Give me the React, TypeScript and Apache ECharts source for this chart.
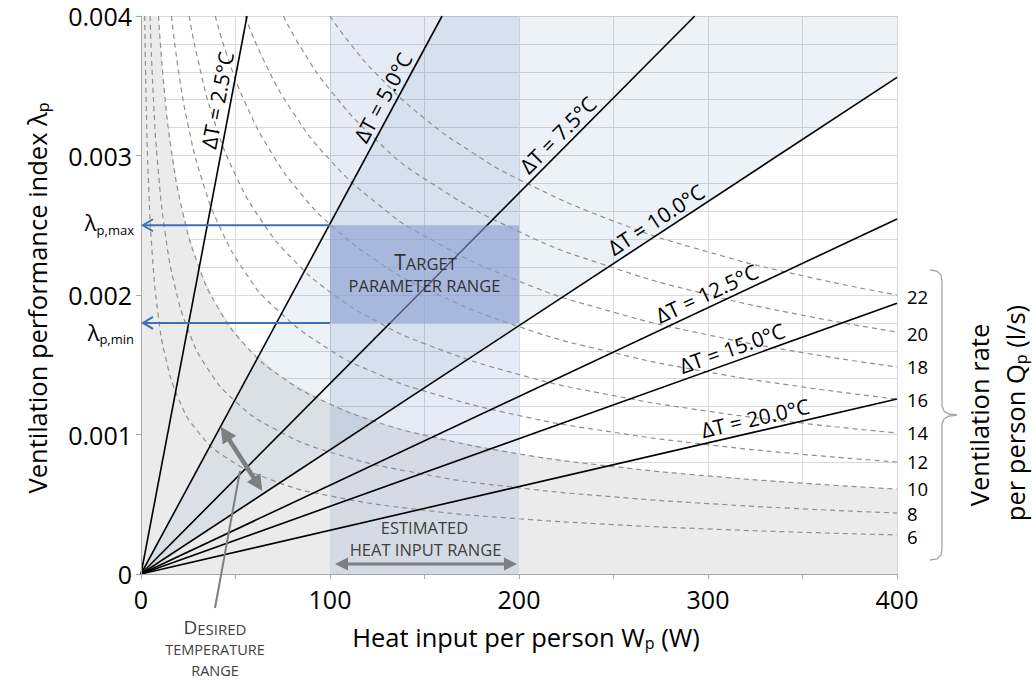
import React, { useEffect, useRef } from 'react';
import * as echarts from 'echarts';

const FONT = "'Open Sans', sans-serif";

// ---- axes ----
const X_RANGE = [0, 400];
const Y_RANGE = [0, 0.004];

// ---- ΔT lines (from origin to the end point) ----
const deltaTNames = ['2.5', '5.0', '7.5', '10.0', '12.5', '15.0', '20.0'];
const deltaTEnd = [
  [56.1, 0.004],
  [159.3, 0.004],
  [293, 0.004],
  [400, 0.00356],
  [400, 0.002545],
  [400, 0.00194],
  [400, 0.001254],
];
// approximate centre of each rotated ΔT label, in data units (projected onto its line)
const deltaTLabelAt = [
  [39.7, 0.003398],
  [127.5, 0.003419],
  [219.6, 0.003161],
  [273, 0.00253],
  [299.5, 0.002007],
  [312.7, 0.00162],
  [324.9, 0.001125],
];

// ---- constant ventilation-rate curves Q_p (l/s) ----
const qNames = ['22', '20', '18', '16', '14', '12', '10', '8', '6'];
const q22 = [[100, 0.004], [110, 0.003814], [125, 0.003578], [150, 0.003266], [175, 0.003024], [200, 0.002828], [250, 0.00253], [300, 0.002309], [350, 0.002138], [400, 0.002]];
const q20 = [[75.3, 0.004], [85, 0.003764], [100, 0.00347], [125, 0.003104], [150, 0.002833], [200, 0.002454], [250, 0.002195], [300, 0.002003], [350, 0.001855], [400, 0.001735]];
const q18 = [[55.1, 0.004], [65, 0.003681], [80, 0.003318], [100, 0.002968], [125, 0.002655], [150, 0.002423], [200, 0.002099], [250, 0.001877], [300, 0.001714], [350, 0.001587], [400, 0.001484]];
const q16 = [[39.3, 0.004], [45, 0.003739], [55, 0.003382], [70, 0.002998], [85, 0.00272], [100, 0.002508], [125, 0.002243], [150, 0.002048], [200, 0.001773], [250, 0.001586], [300, 0.001448], [350, 0.001341], [400, 0.001254]];
const q14 = [[25.5, 0.004], [30, 0.003692], [38, 0.00328], [50, 0.00286], [65, 0.002508], [80, 0.002261], [100, 0.002022], [125, 0.001809], [150, 0.001651], [200, 0.00143], [250, 0.001279], [300, 0.001167], [350, 0.001081], [400, 0.001011]];
const q12 = [[16.1, 0.004], [20, 0.003591], [25, 0.003212], [32, 0.002839], [42, 0.002478], [55, 0.002166], [70, 0.001919], [100, 0.001606], [125, 0.001436], [150, 0.001311], [200, 0.001136], [250, 0.001016], [300, 0.000927], [350, 0.000858], [400, 0.000803]];
const q10 = [[9.3, 0.004], [12, 0.003516], [16, 0.003045], [22, 0.002597], [30, 0.002224], [40, 0.001926], [55, 0.001642], [75, 0.001406], [100, 0.001218], [125, 0.001089], [150, 0.000995], [200, 0.000861], [250, 0.00077], [300, 0.000703], [350, 0.000651], [400, 0.000609]];
const q8 = [[4.8, 0.004], [6.5, 0.003428], [9, 0.002913], [13, 0.002424], [18, 0.00206], [25, 0.001748], [35, 0.001477], [50, 0.001236], [70, 0.001045], [100, 0.000874], [150, 0.000714], [200, 0.000618], [250, 0.000553], [300, 0.000505], [350, 0.000467], [400, 0.000437]];
const q6 = [[1.96, 0.004], [2.8, 0.003347], [4, 0.0028], [6, 0.002287], [9, 0.001867], [13, 0.001553], [20, 0.001252], [30, 0.001022], [45, 0.000835], [70, 0.000669], [100, 0.00056], [150, 0.000457], [200, 0.000396], [250, 0.000354], [300, 0.000323], [350, 0.000299], [400, 0.00028]];
const qCurves = [q22, q20, q18, q16, q14, q12, q10, q8, q6];
// small vertical nudges of the right-hand Q labels (px)
const qLabelNudge = [1, 2, 0, 0, 0, 0, -1, 0, 2];

// ---- ranges ----
const heatRange = [100, 200];
const lambdaRange = [0.0018, 0.0025]; // λp,min, λp,max

export default function App() {
  const ref = useRef<HTMLDivElement>(null);

  useEffect(() => {
    const el = ref.current as HTMLDivElement;
    const chart = echarts.init(el, null, { renderer: 'svg' });

    const greyBoundary = [[0, Y_RANGE[1]], ...q10];
    const wedge = [[0, 0], deltaTEnd[1], [X_RANGE[1], Y_RANGE[1]], deltaTEnd[3]];
    const column = [[heatRange[0], 0], [heatRange[0], Y_RANGE[1]], [heatRange[1], Y_RANGE[1]], [heatRange[1], 0]];
    const target = [[heatRange[0], lambdaRange[0]], [heatRange[0], lambdaRange[1]], [heatRange[1], lambdaRange[1]], [heatRange[1], lambdaRange[0]]];

    const gridColor = '#d9d9d9';
    const axisColor = '#a6a6a6';

    const series: any[] = [];

    series.push({
      type: 'line', name: 'grey', data: greyBoundary, xAxisIndex: 0, yAxisIndex: 0,
      showSymbol: false, symbol: 'none', silent: true, z: 1,
      lineStyle: { width: 0 }, areaStyle: { color: '#ebebeb', opacity: 1 },
    });

    series.push({
      type: 'custom', name: 'zones', data: [[0, 0]], z: 2, silent: true,
      renderItem: (_p: any, api: any) => ({
        type: 'group',
        children: [
          { type: 'polygon', shape: { points: wedge.map((p) => api.coord(p)) }, style: { fill: 'rgba(79,129,189,0.10)' } },
          { type: 'polygon', shape: { points: column.map((p) => api.coord(p)) }, style: { fill: 'rgba(79,129,189,0.15)' } },
        ],
      }),
    });

    qCurves.forEach((d, i) => {
      series.push({
        type: 'line', name: 'Q' + qNames[i], data: d, smooth: true, showSymbol: false, symbol: 'none',
        silent: true, z: 3,
        lineStyle: { color: '#8f8f8f', width: 1.2, type: [5, 4] },
        endLabel: { show: true, formatter: qNames[i], color: '#000', fontSize: 18.5, lineHeight: 19, fontFamily: FONT, distance: 10, offset: [0, qLabelNudge[i]] },
      });
    });

    deltaTEnd.forEach((e, i) => {
      series.push({
        type: 'line', name: 'dT' + deltaTNames[i], data: [[0, 0], e], showSymbol: false, symbol: 'none',
        silent: true, z: 4, lineStyle: { color: '#000', width: 1.6 },
      });
    });

    series.push({
      type: 'custom', name: 'target', data: [[0, 0]], z: 5, silent: true,
      renderItem: (_p: any, api: any) => ({
        type: 'polygon', shape: { points: target.map((p) => api.coord(p)) }, style: { fill: 'rgba(138,157,208,0.6)' },
      }),
    });

    series.push({
      type: 'custom', name: 'dTlabels', z: 6, silent: true,
      data: deltaTLabelAt.map((p, i) => [p[0], p[1], i]),
      renderItem: (_p: any, api: any) => {
        const i = api.value(2);
        const p = api.coord([api.value(0), api.value(1)]);
        const o = api.coord([0, 0]);
        const e = api.coord(deltaTEnd[i]);
        const L = Math.hypot(e[0] - o[0], e[1] - o[1]);
        const ux = (e[0] - o[0]) / L, uy = (e[1] - o[1]) / L;
        const t = (p[0] - o[0]) * ux + (p[1] - o[1]) * uy;
        const off = 13.5;
        const x = o[0] + ux * t + uy * off;
        const y = o[1] + uy * t - ux * off;
        const rot = Math.atan2(o[1] - e[1], e[0] - o[0]);
        return {
          type: 'text', x, y, rotation: rot,
          style: { text: 'ΔT = ' + deltaTNames[i] + '°C', fontSize: 21, lineHeight: 22, fontFamily: FONT, fill: '#000', align: 'center', verticalAlign: 'middle' },
        };
      },
    });

    const option: any = {
      animation: false,
      grid: { left: 141, right: 136, top: 16, bottom: 109, containLabel: false },
      xAxis: [
        {
          type: 'value', min: X_RANGE[0], max: X_RANGE[1], interval: 50, position: 'bottom', z: 0,
          axisLine: { show: false }, axisTick: { show: false }, axisLabel: { show: false },
          splitLine: { show: true, lineStyle: { color: gridColor, width: 1 } },
        },
        {
          type: 'value', min: X_RANGE[0], max: X_RANGE[1], interval: 50, position: 'bottom', z: 10,
          axisLine: { show: true, onZero: false, lineStyle: { color: axisColor, width: 1 } },
          axisTick: { show: true, length: 5, lineStyle: { color: axisColor } },
          axisLabel: { formatter: (v: number) => (v % 100 === 0 ? String(v) : ''), fontSize: 25, color: '#000', fontFamily: FONT, margin: 12 },
          splitLine: { show: false },
        },
      ],
      yAxis: [
        {
          type: 'value', min: Y_RANGE[0], max: Y_RANGE[1], interval: 0.001, position: 'left', z: 0,
          axisLine: { show: false }, axisTick: { show: false }, axisLabel: { show: false },
          splitLine: { show: true, lineStyle: { color: gridColor, width: 1 } },
          minorTick: { show: false, splitNumber: 5 },
          minorSplitLine: { show: true, lineStyle: { color: gridColor, width: 1 } },
        },
        {
          type: 'value', min: Y_RANGE[0], max: Y_RANGE[1], interval: 0.001, position: 'left', z: 10,
          axisLine: { show: true, onZero: false, lineStyle: { color: axisColor, width: 1 } },
          axisTick: { show: true, length: 5, lineStyle: { color: axisColor } },
          axisLabel: { formatter: (v: number) => (v === 0 ? '0' : v.toFixed(3)), fontSize: 25, color: '#000', fontFamily: FONT, margin: 9 },
          splitLine: { show: false },
        },
      ],
      series,
    };

    chart.setOption(option);

    const px = (p: number[]) => chart.convertToPixel({ xAxisIndex: 0, yAxisIndex: 0 }, p) as number[];
    const gAnn = '#7f7f7f';
    const blue = '#3f6fb5';
    const txt = '#404040';

    const arrowHead = (from: number[], to: number[], len: number, half: number, color: string) => {
      const dx = to[0] - from[0], dy = to[1] - from[1];
      const L = Math.hypot(dx, dy);
      const ux = dx / L, uy = dy / L;
      const nx = -uy, ny = ux;
      const bx = to[0] - ux * len, by = to[1] - uy * len;
      return {
        type: 'polygon', z: 50,
        shape: { points: [to, [bx + nx * half, by + ny * half], [bx - nx * half, by - ny * half]] },
        style: { fill: color },
      };
    };
    const doubleArrow = (a: number[], b: number[], w: number, len: number, half: number, color: string) => {
      const dx = b[0] - a[0], dy = b[1] - a[1];
      const L = Math.hypot(dx, dy);
      const ux = dx / L, uy = dy / L;
      return [
        { type: 'line', z: 50, shape: { x1: a[0] + ux * (len - 2), y1: a[1] + uy * (len - 2), x2: b[0] - ux * (len - 2), y2: b[1] - uy * (len - 2) }, style: { stroke: color, lineWidth: w } },
        arrowHead(b, a, len, half, color),
        arrowHead(a, b, len, half, color),
      ];
    };

    const origin = px([0, 0]);
    const g: any[] = [];

    // λ arrows
    [lambdaRange[1], lambdaRange[0]].forEach((lv) => {
      const s = px([heatRange[0], lv]);
      const tipX = origin[0] + 2;
      g.push({ type: 'line', z: 50, shape: { x1: s[0], y1: s[1], x2: tipX, y2: s[1] }, style: { stroke: blue, lineWidth: 2 } });
      g.push({ type: 'polyline', z: 50, shape: { points: [[tipX + 10, s[1] - 6], [tipX, s[1]], [tipX + 10, s[1] + 6]] }, style: { stroke: blue, lineWidth: 2, fill: null } });
    });
    const lmax = px([0, lambdaRange[1]]);
    const lmin = px([0, lambdaRange[0]]);
    const lamRich = {
      l: { fontSize: 22, lineHeight: 28, verticalAlign: 'middle', fontFamily: FONT, fill: '#000' },
      s: { fontSize: 13, lineHeight: 12, verticalAlign: 'bottom', fontFamily: FONT, fill: '#000' },
    };
    g.push({ type: 'text', z: 50, x: 134, y: lmax[1] - 3, style: { text: '{l|λ}{s|p,max}', rich: lamRich, align: 'right', verticalAlign: 'middle' } });
    g.push({ type: 'text', z: 50, x: 134, y: lmin[1] + 9, style: { text: '{l|λ}{s|p,min}', rich: lamRich, align: 'right', verticalAlign: 'middle' } });

    // target text
    const tc = px([(heatRange[0] + heatRange[1]) / 2, (lambdaRange[0] + lambdaRange[1]) / 2]);
    const scRich = {
      b: { fontSize: 21, lineHeight: 20, verticalAlign: 'bottom', fontFamily: FONT, fill: '#333' },
      s: { fontSize: 16.5, lineHeight: 17, verticalAlign: 'bottom', fontFamily: FONT, fill: '#333' },
    };
    g.push({ type: 'text', z: 50, x: tc[0] + 1, y: tc[1] - 12, style: { text: '{b|T}{s|ARGET}', rich: scRich, align: 'center', verticalAlign: 'middle' } });
    g.push({ type: 'text', z: 50, x: tc[0], y: tc[1] + 11, style: { text: 'PARAMETER RANGE', fontSize: 16.5, lineHeight: 18, fontFamily: FONT, fill: '#333', align: 'center', verticalAlign: 'middle' } });

    // estimated heat input range
    const hL = px([heatRange[0], 0]);
    const hR = px([heatRange[1], 0]);
    const hc = (hL[0] + hR[0]) / 2;
    g.push({ type: 'text', z: 50, x: hc, y: 527, style: { text: 'ESTIMATED', fontSize: 16.5, lineHeight: 18, fontFamily: FONT, fill: txt, align: 'center', verticalAlign: 'middle' } });
    g.push({ type: 'text', z: 50, x: hc + 1, y: 549, style: { text: 'HEAT INPUT RANGE', fontSize: 16.5, lineHeight: 18, fontFamily: FONT, fill: txt, align: 'center', verticalAlign: 'middle' } });
    g.push(...doubleArrow([hL[0] + 5, 564], [hR[0] - 2, 564], 3, 13, 6.5, gAnn));

    // desired temperature range
    g.push(...doubleArrow([220.7, 426.7], [262.3, 491], 4.5, 16, 8, gAnn));
    g.push({ type: 'line', z: 50, shape: { x1: 215, y1: 608, x2: 240, y2: 471 }, style: { stroke: gAnn, lineWidth: 2 } });
    const dRich = {
      b: { fontSize: 19, lineHeight: 19, verticalAlign: 'bottom', fontFamily: FONT, fill: txt },
      s: { fontSize: 15, lineHeight: 16, verticalAlign: 'bottom', fontFamily: FONT, fill: txt },
    };
    g.push({ type: 'text', z: 50, x: 215, y: 627, style: { text: '{b|D}{s|ESIRED}', rich: dRich, align: 'center', verticalAlign: 'middle' } });
    g.push({ type: 'text', z: 50, x: 215, y: 649, style: { text: 'TEMPERATURE', fontSize: 14.5, lineHeight: 17, fontFamily: FONT, fill: txt, align: 'center', verticalAlign: 'middle' } });
    g.push({ type: 'text', z: 50, x: 215, y: 670, style: { text: 'RANGE', fontSize: 14.5, lineHeight: 17, fontFamily: FONT, fill: txt, align: 'center', verticalAlign: 'middle' } });

    // brace on the right
    g.push({
      type: 'polyline', z: 50,
      shape: { points: [[930, 270], [937, 271], [941, 275], [942, 281], [942, 406], [944, 411], [949, 414], [957, 415], [949, 416], [944, 419], [942, 424], [942, 549], [941, 555], [937, 559], [930, 560]] },
      style: { stroke: '#a6a6a6', lineWidth: 1.3, fill: null },
    });

    // axis titles
    const tRich = {
      m: { fontSize: 25.5, lineHeight: 28, verticalAlign: 'middle', fontFamily: FONT, fill: '#000' },
      s: { fontSize: 16, lineHeight: 9, verticalAlign: 'bottom', fontFamily: FONT, fill: '#000' },
    };
    g.push({ type: 'text', z: 50, x: 526, y: 637, style: { text: '{m|Heat input per person W}{s|p}{m| (W)}', rich: tRich, align: 'center', verticalAlign: 'middle' } });
    g.push({ type: 'text', z: 50, x: 37, y: 298, rotation: Math.PI / 2, style: { text: '{m|Ventilation performance index λ}{s|p}', rich: tRich, align: 'center', verticalAlign: 'middle' } });
    g.push({ type: 'text', z: 50, x: 979, y: 415, rotation: Math.PI / 2, style: { text: '{m|Ventilation rate}', rich: tRich, align: 'center', verticalAlign: 'middle' } });
    g.push({ type: 'text', z: 50, x: 1015, y: 413, rotation: Math.PI / 2, style: { text: '{m|per person Q}{s|p}{m| (l/s)}', rich: tRich, align: 'center', verticalAlign: 'middle' } });

    chart.setOption({ graphic: g });

    return () => chart.dispose();
  }, []);

  return <div ref={ref} style={{ position: 'absolute', left: 0, top: 0, width: 1033, height: 683 }} />;
}
